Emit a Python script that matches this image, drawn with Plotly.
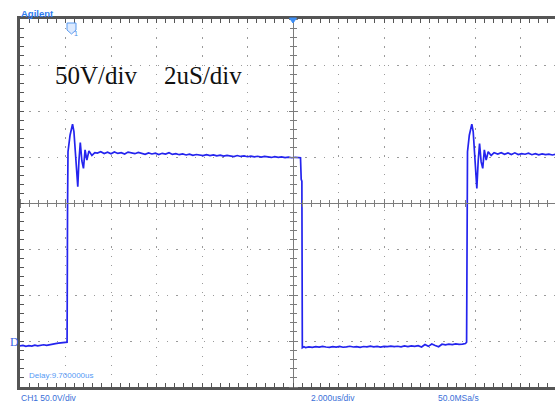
import plotly.graph_objects as go

# ---------------- data (read from the screen capture) ----------------
# time in microseconds (scope time, screen centre = delay 9.7 us), voltage in volts (CH1)
time_us = [
    -2.30, -2.17, -2.04, -1.91, -1.78, -1.65, -1.52, -1.39, -1.26, -1.13, -1.00, -0.87,
    -0.74, -0.61, -0.48, -0.35, -0.26,
    -0.23, -0.21, -0.19, -0.10, 0.01, 0.07, 0.16, 0.24, 0.29, 0.35, 0.42, 0.49, 0.56,
    0.64, 0.73, 0.86, 0.99,
    1.10, 1.25, 1.40, 1.55, 1.70, 1.85, 2.00, 2.15, 2.30, 2.45, 2.60, 2.75, 2.90, 3.05,
    3.20, 3.35, 3.50, 3.65, 3.80, 3.95, 4.10, 4.25, 4.40, 4.55, 4.70, 4.85, 5.00, 5.15,
    5.30, 5.45, 5.60, 5.75, 5.90, 6.05, 6.20, 6.35, 6.50, 6.65, 6.80, 6.95, 7.10, 7.25,
    7.40, 7.55, 7.70, 7.85, 8.00, 8.15, 8.30, 8.45, 8.60, 8.75, 8.90, 9.05, 9.20, 9.35,
    9.50, 9.65, 9.80, 9.95,
    10.03, 10.06, 10.09, 10.11, 10.18,
    10.25, 10.40, 10.55, 10.70, 10.85, 11.00, 11.15, 11.30, 11.45, 11.60, 11.75, 11.90,
    12.05, 12.20, 12.35, 12.50, 12.65, 12.80, 12.95, 13.10, 13.25, 13.40, 13.55, 13.70,
    13.85, 14.00, 14.15, 14.30, 14.45, 14.60, 14.75, 14.90, 15.05, 15.20, 15.35, 15.50,
    15.65, 15.80, 15.95, 16.10, 16.25, 16.40, 16.55, 16.70, 16.85, 17.00, 17.15, 17.28,
    17.33, 17.35, 17.37, 17.45, 17.56, 17.62, 17.71, 17.78, 17.84, 17.90, 17.97, 18.04,
    18.11, 18.19, 18.28, 18.41, 18.54,
    18.70, 18.85, 19.00, 19.15, 19.30, 19.45, 19.60, 19.75, 19.90, 20.05, 20.20, 20.35,
    20.50, 20.65, 20.80, 20.95, 21.10, 21.25,
]
ch1_volts = [
    -1.0, -0.5, -1.5, -0.8, -1.2, -0.3, -1.0, -0.6, 0.2, -0.4, 0.5, 0.8,
    1.5, 2.0, 2.5, 2.8, 3.0,
    3.0, 150.0, 210.0, 228.0, 240.0, 232.0, 196.0, 172.0, 200.0, 220.0, 200.0, 192.0, 212.0,
    201.0, 211.0, 206.0, 209.0,
    208.5, 210.0, 208.0, 209.5, 207.8, 209.8, 208.2, 209.0, 207.5, 209.6, 208.4, 207.9, 209.2, 208.0,
    207.2, 208.8, 207.6, 208.5, 206.9, 208.3, 207.4, 209.0, 207.1, 208.0, 206.8, 207.6, 206.5, 207.3,
    206.2, 207.0, 206.4, 205.8, 206.9, 205.9, 206.6, 205.5, 206.3, 205.2, 206.0, 205.4, 204.8, 205.9,
    204.9, 205.5, 204.6, 205.3, 204.5, 205.1, 204.2, 205.0, 204.4, 203.8, 204.6, 203.9, 204.4, 203.6,
    204.2, 203.5, 204.0, 203.4,
    203.5, 180.0, 178.0, -3.0, -2.0,
    -2.8, -2.0, -2.6, -1.8, -2.4, -1.5, -2.2, -2.7, -1.9, -2.3, -1.6, -2.5,
    -2.0, -1.4, -2.2, -1.8, -2.6, -1.7, -2.1, -1.3, -2.0, -1.6, -2.3, -1.5,
    -1.9, -1.2, -1.8, -1.4, -2.0, -1.1, -1.7, -1.0, -1.6, -0.8, -2.2, 0.5,
    -1.5, 1.0, -0.6, -2.0, 0.8, 0.2, 0.9, 0.4, 1.2, 0.6, 1.0, 1.5,
    3.0, 150.0, 210.0, 228.0, 240.0, 232.0, 196.0, 170.0, 200.0, 219.0, 199.0, 192.0,
    212.0, 201.0, 210.0, 206.0, 209.0,
    207.5, 209.0, 207.2, 208.6, 207.0, 208.8, 206.9, 208.0, 207.3, 208.4, 206.8, 207.9,
    206.6, 207.7, 206.9, 207.4, 206.5, 207.2,
]

# screen settings
time_per_div = 2.0        # us/div
volts_per_div = 50.0      # V/div
screen_center_time = 9.7  # us (delay)
screen_center_volts = 154.3
time_window = [-2.3, 21.216]
volt_window = [screen_center_volts - 4 * volts_per_div, screen_center_volts + 4 * volts_per_div]

# ---------------- layout geometry ----------------
W, H = 555, 403
ML, MT, MR, MB = 20, 19, 0, 16
PW, PH = W - ML - MR, H - MT - MB


def px(xp):
    return (xp - ML) / PW


def py(yp):
    return (H - MB - yp) / PH


BORDER = "#555555"
GRID = "#9a9a9a"
CENTER = "#7c7c7c"
TRACE = "#2424ee"
LABEL_BLUE = "#2f7cf0"

center_pos_x = (screen_center_time - time_window[0]) / (time_window[1] - time_window[0])
center_pos_y = (screen_center_volts - volt_window[0]) / (volt_window[1] - volt_window[0])

fig = go.Figure()
fig.add_trace(go.Scatter(x=time_us, y=ch1_volts, mode="lines",
                         line=dict(color=TRACE, width=1.7), hoverinfo="skip",
                         showlegend=False))
# empty traces so the centre-cross axes exist
for xa, ya in [("x2", "y"), ("x3", "y"), ("x", "y2"), ("x", "y3")]:
    fig.add_trace(go.Scatter(x=[], y=[], xaxis=xa, yaxis=ya, showlegend=False,
                             hoverinfo="skip"))

common = dict(showticklabels=False, zeroline=False, fixedrange=True)

fig.update_layout(
    width=W, height=H,
    margin=dict(l=ML, r=MR, t=MT, b=MB, pad=0),
    paper_bgcolor="white", plot_bgcolor="white",
    xaxis=dict(range=time_window, domain=[0, 1], showline=True, linecolor=BORDER,
               linewidth=2.5, mirror="ticks", ticks="inside", ticklen=4,
               tickcolor=BORDER, tickwidth=1.2, tick0=screen_center_time,
               dtick=time_per_div, showgrid=True, gridcolor=GRID, gridwidth=1,
               griddash="1.3px,7.8px",
               minor=dict(tick0=screen_center_time, dtick=time_per_div / 5,
                          ticks="inside", ticklen=4, tickcolor=BORDER, tickwidth=1.2,
                          showgrid=False),
               **common),
    yaxis=dict(range=volt_window, domain=[0, 1], showline=True, linecolor=BORDER,
               linewidth=2.5, ticks="inside", ticklen=4, tickcolor=BORDER,
               tickwidth=1.2, tick0=screen_center_volts, dtick=volts_per_div,
               showgrid=True, gridcolor=GRID, gridwidth=1, griddash="1.3px,7.9px",
               minor=dict(tick0=screen_center_volts, dtick=volts_per_div / 5,
                          ticks="inside", ticklen=4, tickcolor=BORDER, tickwidth=1.2,
                          showgrid=False),
               **common),
)

for name, side in [("xaxis2", "bottom"), ("xaxis3", "top")]:
    fig.update_layout({name: dict(range=time_window, overlaying="x", anchor="free",
                                  position=center_pos_y, side=side, showline=True,
                                  linecolor=CENTER, linewidth=1.2, ticks="outside",
                                  ticklen=4, tickcolor=CENTER, tickwidth=1.2,
                                  tick0=screen_center_time, dtick=time_per_div,
                                  showgrid=False,
                                  minor=dict(tick0=screen_center_time,
                                             dtick=time_per_div / 5, ticks="outside",
                                             ticklen=3, tickcolor=CENTER, tickwidth=1.2,
                                             showgrid=False),
                                  **common)})
for name, side in [("yaxis2", "left"), ("yaxis3", "right")]:
    fig.update_layout({name: dict(range=volt_window, overlaying="y", anchor="free",
                                  position=center_pos_x, side=side, showline=True,
                                  linecolor=CENTER, linewidth=1.2, ticks="outside",
                                  ticklen=4, tickcolor=CENTER, tickwidth=1.2,
                                  tick0=screen_center_volts, dtick=volts_per_div,
                                  showgrid=False,
                                  minor=dict(tick0=screen_center_volts,
                                             dtick=volts_per_div / 5, ticks="outside",
                                             ticklen=3, tickcolor=CENTER, tickwidth=1.2,
                                             showgrid=False),
                                  **common)})

# ---------------- text ----------------
def label(text, xp, yp, size, color, family="Liberation Sans", bold=False):
    fig.add_annotation(text=f"<b>{text}</b>" if bold else text, x=px(xp), y=py(yp),
                       xref="paper", yref="paper", xanchor="left", yanchor="middle",
                       showarrow=False, font=dict(size=size, color=color, family=family))


label("Agilent", 19, 13, 9.5, LABEL_BLUE, bold=True)
label("50V/div", 53, 76, 25, "#111111", family="Liberation Serif")
label("2uS/div", 162, 76, 25, "#111111", family="Liberation Serif")
label("Delay:9.700000us", 27, 375, 8, "#5599f5")
label("CH1 50.0V/div", 19, 398, 8.5, "#3a6fd8")
label("2.000us/div", 309, 398, 8.5, "#3a6fd8")
label("50.0MSa/s", 436, 398, 8.5, "#3a6fd8")

# channel ground marker (left) and trigger markers (top)
fig.add_annotation(text="D", x=px(8), y=py(342), xref="paper", yref="paper",
                   xanchor="left", yanchor="middle", showarrow=False,
                   font=dict(size=12, color="#3a5fe8", family="Liberation Serif"))
fig.add_shape(type="path", xref="paper", yref="paper",
              path=(f"M {px(67)},{py(23)} L {px(76)},{py(23)} L {px(76)},{py(30)} "
                    f"L {px(71.5)},{py(34)} L {px(67)},{py(30)} Z"),
              line=dict(color="#5b9bf0", width=1), fillcolor="rgba(120,170,250,0.25)")
fig.add_annotation(text="1", x=px(71.5), y=py(27.5), xref="paper", yref="paper",
                   showarrow=False, font=dict(size=7, color="#4a8ae8",
                                               family="Liberation Sans"))
fig.add_shape(type="path", xref="paper", yref="paper",
              path=(f"M {px(289.5)},{py(18)} L {px(296.5)},{py(18)} "
                    f"L {px(293)},{py(23)} Z"),
              line=dict(color="#3d8ef5", width=1), fillcolor="#3d8ef5")

fig.write_html("out.html", config={"displayModeBar": False},
               post_script="document.body.style.margin='0';document.body.style.padding='0';")
